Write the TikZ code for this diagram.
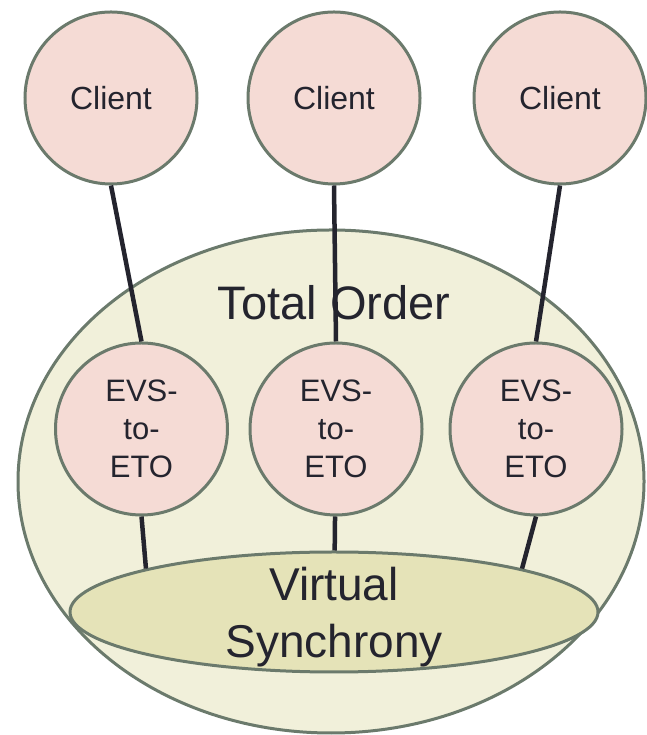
\documentclass[tikz,border=0pt]{standalone}
\usepackage{fontspec}
\setmainfont{Liberation Sans}
\usetikzlibrary{shapes.geometric}

\definecolor{nodefill}{HTML}{F5DBD5}
\definecolor{rim}{HTML}{6B7A6C}
\definecolor{outerfill}{HTML}{F1F0DA}
\definecolor{vsfill}{HTML}{E5E3B8}
\definecolor{ink}{HTML}{24242E}

\begin{document}
\begin{tikzpicture}[x=1pt, y=1pt,
		proc/.style={circle, draw=rim, line width=3pt, fill=nodefill, minimum size=172pt, inner sep=0pt, text=ink, align=center},
		layer/.style={ellipse, draw=rim, line width=3pt, inner sep=0pt},
		link/.style={draw=ink, line width=4.5pt}]
	\useasboundingbox (0,0) rectangle (646,735);

	\node[layer, fill=outerfill, minimum width=626pt, minimum height=503pt] (total) at (331,253.5) {};
	\node[text=ink, font=\fontsize{47}{56}\selectfont] (totallabel) at (334,432.5) {Total Order};

	\node[layer, fill=vsfill, minimum width=528pt, minimum height=120pt] (vs) at (334,123) {};
	\node[text=ink, align=center, font=\fontsize{46}{57}\selectfont] (vslabel) at (334,118) {Virtual\\Synchrony};

	\node[proc, font=\fontsize{32}{38}\selectfont] (c1) at (111,637) {Client};
	\node[proc, font=\fontsize{32}{38}\selectfont] (c2) at (334,637) {Client};
	\node[proc, font=\fontsize{32}{38}\selectfont] (c3) at (560,637) {Client};

	\node[proc, font=\fontsize{31}{38}\selectfont] (e1) at (141.5,306) {EVS-\\to-\\ETO};
	\node[proc, font=\fontsize{31}{38}\selectfont] (e2) at (336,306) {EVS-\\to-\\ETO};
	\node[proc, font=\fontsize{31}{38}\selectfont] (e3) at (536,306) {EVS-\\to-\\ETO};

	\draw[link] (c1.south) -- (e1.north);
	\draw[link] (c2.south) -- (e2.north);
	\draw[link] (c3.south) -- (e3.north);

	\draw[link] (e1.south) -- (vs.167);
	\draw[link] (e2) -- (vs);
	\draw[link] (e3.south) -- (vs.13);
\end{tikzpicture}
\end{document}
